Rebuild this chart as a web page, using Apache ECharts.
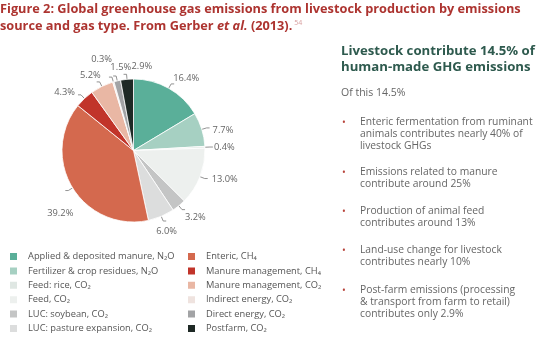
<!DOCTYPE html>
<html><head><meta charset="utf-8">
<script src="https://cdn.jsdelivr.net/npm/echarts@6/dist/echarts.min.js"></script>
<style>html,body{margin:0;padding:0;background:#fff}#c{width:540px;height:343px}</style>
</head><body><div id="c"></div>
<script>
const categories = [
  'Applied & deposited manure, N₂O',
  'Fertilizer & crop residues, N₂O',
  'Feed: rice, CO₂',
  'Feed, CO₂',
  'LUC: soybean, CO₂',
  'LUC: pasture expansion, CO₂',
  'Enteric, CH₄',
  'Manure management, CH₄',
  'Manure management, CO₂',
  'Indirect energy, CO₂',
  'Direct energy, CO₂',
  'Postfarm, CO₂'
];
const values = [16.4, 7.7, 0.4, 13.0, 3.2, 6.0, 39.2, 4.3, 5.2, 0.3, 1.5, 2.9];
const colors = ['#5aaf99','#a6d0c2','#dfe7e3','#edf0ee','#c4c5c5','#dcdddd',
                '#d4694e','#c1342a','#e9b7a4','#efe3df','#a2a3a5','#1e2925'];
const bullets = [
  ['Enteric fermentation from ruminant','animals contributes nearly 40% of','livestock GHGs'],
  ['Emissions related to manure','contribute around 25%'],
  ['Production of animal feed','contributes around 13%'],
  ['Land-use change for livestock','contributes nearly 10%'],
  ['Post-farm emissions (processing','& transport from farm to retail)','contributes only 2.9%']
];
// styling: label nudges (px) per slice
const labelNudge = [[-3,-6],[1,2],[-1,0],[2,1],[-2,8],[-12,10],[10,23],[-1,-3],[6,-7],[5,-18],[20,-9],[10,-8]];
const labelAlign = [null,null,null,null,null,null,null,null,null,null,null,'left'];
const bulletTops = [116, 166, 205, 244, 284];

const FONT = '"Open Sans", sans-serif';
const chart = echarts.init(document.getElementById('c'));
const data = categories.map((n,i)=>({name:n, value:values[i], itemStyle:{color:colors[i]}}));

const graphics = [
  {type:'text', left:0, top:3, style:{text:'Figure 2: Global greenhouse gas emissions from livestock production by emissions',
    font:'bold 12.75px '+FONT, fill:'#ad3430'}},
  {type:'text', left:0, top:19, style:{text:'{a|source and gas type. From Gerber }{b|et al.}{a| (2013).}{s|54}',
    rich:{a:{font:'bold 12.75px '+FONT, fill:'#ad3430'}, b:{font:'italic bold 12.75px '+FONT, fill:'#ad3430'},
          s:{font:'7px '+FONT, fill:'#d8a0a0', verticalAlign:'top', padding:[0,0,8,2]}}}},
  {type:'text', left:341, top:43, style:{text:'Livestock contribute 14.5% of\nhuman-made GHG emissions',
    font:'bold 13.2px '+FONT, fill:'#2e5a4e', lineHeight:16}},
  {type:'text', left:341, top:88, style:{text:'Of this 14.5%', font:'10.5px '+FONT, fill:'#666'}}
];
bullets.forEach((b,i)=>{
  graphics.push({type:'text', left:342, top:bulletTops[i]+2, style:{text:'•', font:'10px '+FONT, fill:'#b8433a'}});
  graphics.push({type:'text', left:360, top:bulletTops[i], style:{text:b.join('\n'), font:'10.3px '+FONT, fill:'#666', lineHeight:12}});
});

const legendBase = {orient:'vertical', top:251, height:92, padding:0, itemWidth:9, itemHeight:9, itemGap:3.4, icon:'rect',
  textStyle:{fontFamily:FONT, fontSize:9.3, color:'#555', padding:[0,0,0,5]}};
chart.setOption({
  animation:false,
  graphic: graphics,
  legend: [
    Object.assign({}, legendBase, {left:8, data:categories.slice(0,6)}),
    Object.assign({}, legendBase, {left:186, data:categories.slice(6)})
  ],
  series:[{
    type:'pie', center:[133.5,150.5], radius:71.5, startAngle:90, clockwise:true,
    data:data, avoidLabelOverlap:false,
    itemStyle:{borderColor:'#fff', borderWidth:0.8},
    label:{formatter:p=>p.value.toFixed(1)+'%', fontFamily:FONT, fontSize:9.3, color:'#666', distanceToLabelLine:2},
    labelLine:{length:5, length2:3, lineStyle:{color:'#777', width:0.8}},
    labelLayout: p => {
      const o = {dx:labelNudge[p.dataIndex][0], dy:labelNudge[p.dataIndex][1]};
      if (labelAlign[p.dataIndex]) o.align = labelAlign[p.dataIndex];
      return o;
    },
    emphasis:{disabled:true}
  }]
});
</script></body></html>
